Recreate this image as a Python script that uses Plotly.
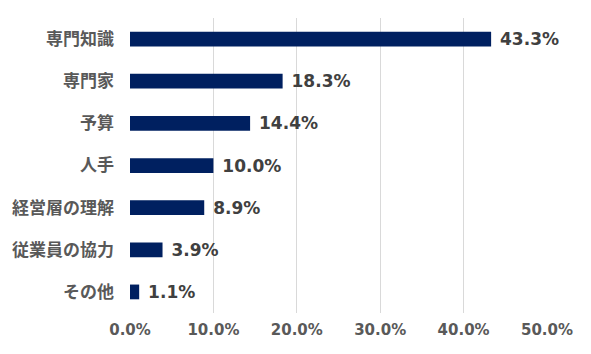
import plotly.graph_objects as go

categories = ["専門知識", "専門家", "予算", "人手", "経営層の理解", "従業員の協力", "その他"]
values = [43.3, 18.3, 14.4, 10.0, 8.9, 3.9, 1.1]
x_ticks = [0, 10, 20, 30, 40, 50]
x_tick_labels = ["0.0%", "10.0%", "20.0%", "30.0%", "40.0%", "50.0%"]

FONT = "DejaVu Sans, Noto Sans CJK JP, sans-serif"
GRAY = "#595959"

fig = go.Figure(go.Bar(
    y=categories,
    x=values,
    orientation="h",
    marker=dict(color="#002060", line=dict(width=0)),
    width=0.35,
    text=[f" {v:.1f}%" for v in values],
    textposition="outside",
    constraintext="none",
    textfont=dict(family=FONT, size=17, color="#404040", weight="bold"),
    cliponaxis=False,
))

fig.update_layout(
    width=591, height=354,
    margin=dict(l=130, r=44, t=18, b=41),
    plot_bgcolor="white", paper_bgcolor="white",
    showlegend=False,
    font=dict(family=FONT, color=GRAY),
    xaxis=dict(
        range=[0, 50], tickvals=x_ticks, ticktext=x_tick_labels,
        showgrid=True, gridcolor="#d9d9d9", gridwidth=1,
        zeroline=False, showline=False,
        tickfont=dict(family=FONT, size=15, color=GRAY, weight="bold"),
        ticklabelstandoff=6,
    ),
    yaxis=dict(
        autorange="reversed",
        showgrid=False, zeroline=False, showline=False,
        tickfont=dict(family=FONT, size=17, color=GRAY, weight="bold"),
        ticklabelstandoff=15,
    ),
)

fig.write_html("out.html")
